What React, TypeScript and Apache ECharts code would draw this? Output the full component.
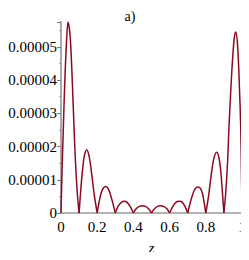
import React, { useEffect, useRef } from "react";
import * as echarts from "echarts";

const xTicks = ["0", "0.2", "0.4", "0.6", "0.8", "1"];
const yTicks = ["0", "0.00001", "0.00002", "0.00003", "0.00004", "0.00005"];

const lobe1 = [[0, 0], [0.005, 1.1e-5], [0.013, 2.57e-5], [0.02, 3.8e-5], [0.03, 5.1e-5], [0.039, 5.75e-5], [0.05, 5.35e-5], [0.06, 4.3e-5], [0.072, 2.57e-5], [0.08, 1.55e-5], [0.09, 0.6e-5], [0.1, 0]];
const lobe2 = [[0.1, 0], [0.11, 0.75e-5], [0.12, 1.35e-5], [0.13, 1.75e-5], [0.142, 1.9e-5], [0.155, 1.72e-5], [0.17, 1.15e-5], [0.185, 0.5e-5], [0.2, 0]];
const lobe3 = [[0.2, 0], [0.21, 0.32e-5], [0.222, 0.6e-5], [0.235, 0.76e-5], [0.248, 0.8e-5], [0.262, 0.72e-5], [0.277, 0.48e-5], [0.29, 0.22e-5], [0.3, 0]];
const lobe4 = [[0.3, 0], [0.315, 0.2e-5], [0.335, 0.33e-5], [0.35, 0.35e-5], [0.365, 0.32e-5], [0.385, 0.17e-5], [0.4, 0]];
const lobe5 = [[0.4, 0], [0.415, 0.13e-5], [0.433, 0.2e-5], [0.45, 0.22e-5], [0.467, 0.2e-5], [0.485, 0.12e-5], [0.5, 0]];
const lobe6 = [[0.5, 0], [0.515, 0.12e-5], [0.533, 0.2e-5], [0.55, 0.22e-5], [0.567, 0.2e-5], [0.585, 0.13e-5], [0.6, 0]];
const lobe7 = [[0.6, 0], [0.615, 0.17e-5], [0.635, 0.32e-5], [0.655, 0.35e-5], [0.67, 0.32e-5], [0.685, 0.2e-5], [0.7, 0]];
const lobe8 = [[0.7, 0], [0.71, 0.22e-5], [0.723, 0.48e-5], [0.74, 0.72e-5], [0.758, 0.78e-5], [0.77, 0.74e-5], [0.782, 0.58e-5], [0.79, 0.34e-5], [0.8, 0]];
const lobe9 = [[0.8, 0], [0.815, 0.5e-5], [0.83, 1.15e-5], [0.845, 1.65e-5], [0.86, 1.83e-5], [0.872, 1.68e-5], [0.882, 1.3e-5], [0.89, 0.75e-5], [0.9, 0]];
const lobe10 = [[0.9, 0], [0.91, 0.6e-5], [0.92, 1.5e-5], [0.928, 2.57e-5], [0.94, 3.9e-5], [0.95, 4.8e-5], [0.958, 5.3e-5], [0.965, 5.45e-5], [0.975, 5.1e-5], [0.985, 3.9e-5], [0.993, 2.57e-5], [0.997, 1.2e-5], [1, 0]];

const lobes = [lobe1, lobe2, lobe3, lobe4, lobe5, lobe6, lobe7, lobe8, lobe9, lobe10];

const serif = "Liberation Serif, Times New Roman, serif";

export default function App() {
  const ref = useRef<HTMLDivElement>(null);
  useEffect(() => {
    if (!ref.current) return;
    const chart = echarts.init(ref.current, null, { renderer: "svg" });
    chart.setOption({
      animation: false,
      textStyle: { fontFamily: serif },
      title: {
        text: "a)",
        left: 125,
        top: 4,
        textAlign: "center",
        textStyle: { fontFamily: serif, fontSize: 14, fontWeight: "normal", color: "#000" },
      },
      grid: { left: 61, right: 7, top: 22, bottom: 42 },
      xAxis: {
        type: "value",
        min: 0,
        max: 1,
        interval: 0.2,
        name: "z",
        nameLocation: "middle",
        nameGap: 27,
        nameTextStyle: { fontFamily: serif, fontSize: 15, fontStyle: "italic", color: "#000" },
        axisLine: { lineStyle: { color: "#9a9a9a", width: 1.5 } },
        axisTick: { show: false },
        splitLine: { show: false },
        axisLabel: {
          margin: 6,
          fontFamily: serif,
          fontSize: 15,
          color: "#000",
          formatter: (v: number) => xTicks[Math.round(v / 0.2)] ?? "",
        },
      },
      yAxis: {
        type: "value",
        min: 0,
        max: 0.0000575,
        interval: 0.00001,
        axisLine: { show: true, lineStyle: { color: "#aaaaaa", width: 2 } },
        axisTick: { show: true, length: 4, lineStyle: { color: "#777" } },
        minorTick: { show: true, splitNumber: 2, length: 2, lineStyle: { color: "#999" } },
        splitLine: { show: false },
        axisLabel: {
          margin: 4,
          fontFamily: serif,
          fontSize: 15,
          color: "#000",
          showMaxLabel: false,
          formatter: (v: number) => {
            const i = Math.round(v / 0.00001);
            return Math.abs(v - i * 0.00001) < 1e-9 ? yTicks[i] ?? "" : "";
          },
        },
      },
      series: lobes.map((d) => ({
        type: "line",
        data: d,
        smooth: 0.35,
        showSymbol: false,
        silent: true,
        lineStyle: { color: "#8b0a22", width: 1.5 },
      })),
    });
    return () => chart.dispose();
  }, []);
  return <div ref={ref} style={{ width: 249, height: 260, margin: -8 }} />;
}
